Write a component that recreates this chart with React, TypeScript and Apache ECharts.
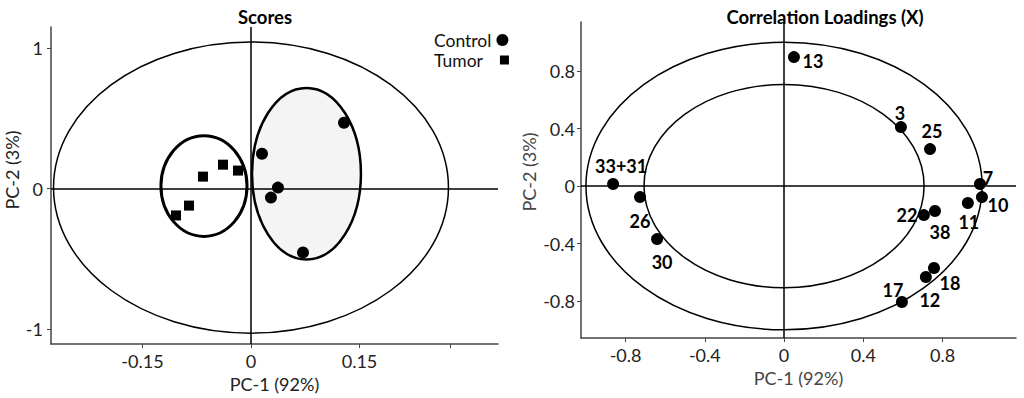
import React, { useEffect, useRef } from 'react';
import * as echarts from 'echarts';

// ---------- Scores panel data ----------
const scoreControl: number[][] = [
  [0.1286, 0.468],
  [0.0152, 0.248],
  [0.0373, 0.007],
  [0.0276, -0.064],
  [0.0719, -0.454],
];
const scoreTumor: number[][] = [
  [-0.0387, 0.17],
  [-0.018, 0.128],
  [-0.0664, 0.085],
  [-0.0857, -0.121],
  [-0.1037, -0.191],
];
// ellipses: [centerX, centerY, radiusX, radiusY]
const scoreEllipseHotelling = [0, 0.007, 0.273, 1.035];
const scoreEllipseControl = [0.0767, 0.106, 0.0753, 0.61];
const scoreEllipseTumor = [-0.065, 0.018, 0.0595, 0.358];
const scoreXTicks = [-0.15, 0, 0.15, 0.275];
const scoreXLabels = [-0.15, 0, 0.15];
const scoreYTicks = [-1, 0, 1];

// ---------- Correlation loadings panel data ----------
const loadingNames = ['13', '3', '25', '7', '10', '11', '22', '38', '33+31', '26', '30', '18', '12', '17'];
const loadingX = [0.05, 0.59, 0.737, 0.989, 0.999, 0.928, 0.706, 0.762, -0.863, -0.727, -0.641, 0.757, 0.716, 0.595];
const loadingY = [0.897, 0.41, 0.257, 0.014, -0.077, -0.118, -0.202, -0.174, 0.014, -0.077, -0.369, -0.57, -0.633, -0.807];
const loadingCircleRadii = [1.0, 0.707];
const loadingTicks = [-0.8, -0.4, 0, 0.4, 0.8];

// label placement (pixel offsets of label centre from point centre)
const labelOffsets: Record<string, number[]> = {
  '13': [19, 4], '3': [-1, -14], '25': [2, -18], '7': [8, -6], '10': [16, 8],
  '11': [1, 19], '22': [-17, 0], '38': [5, 21], '33+31': [8, -18], '26': [0, 24],
  '30': [5, 23], '18': [16, 15], '12': [4, 23], '17': [-9, -12],
};

const FONT = 'Lato, "Open Sans", sans-serif';

function ellipseSeries(axis: number, ell: number[], lineWidth: number, fill: string) {
  return {
    type: 'custom',
    xAxisIndex: axis,
    yAxisIndex: axis,
    z: 1,
    silent: true,
    clip: false,
    data: [ell],
    encode: { x: 0, y: 1 },
    renderItem: (_p: any, api: any) => {
      const c = api.coord([api.value(0), api.value(1)]);
      const s = api.size([api.value(2), api.value(3)]);
      return {
        type: 'ellipse',
        shape: { cx: c[0], cy: c[1], rx: s[0], ry: s[1] },
        style: { fill, stroke: '#000', lineWidth },
      };
    },
  };
}

const zeroLines = {
  silent: true,
  symbol: 'none',
  label: { show: false },
  lineStyle: { color: '#000', width: 1.5, type: 'solid' },
  data: [{ xAxis: 0 }, { yAxis: 0 }],
};

export default function App() {
  const ref = useRef<HTMLDivElement>(null);
  useEffect(() => {
    document.body.style.margin = '0';
    const chart = echarts.init(ref.current!, null, { renderer: 'svg' });
    const axisCommon = {
      type: 'value',
      splitLine: { show: false },
      axisLine: { show: true, onZero: false, lineStyle: { color: '#444', width: 1.5 } },
      axisTick: { show: true, length: 4, lineStyle: { color: '#444' } },
      axisLabel: { color: '#222', fontSize: 18, fontFamily: FONT, margin: 8, formatter: (v: number) => String(v) },
    };
    const legendCommon = {
      orient: 'vertical',
      left: 434,
      align: 'right',
      padding: 0,
      itemGap: 0,
    };
    const option: any = {
      animation: false,
      textStyle: { fontFamily: FONT },
      title: [
        { text: 'Scores', left: 260, top: 2, textAlign: 'center', textStyle: { fontSize: 18.5, fontWeight: 'bold', color: '#000', fontFamily: FONT } },
        { text: 'Correlation Loadings (X)', left: 820, top: 2, textAlign: 'center', textStyle: { fontSize: 18.5, fontWeight: 'bold', color: '#000', fontFamily: FONT } },
      ],
      legend: [
        {
          ...legendCommon,
          top: 31,
          itemWidth: 12,
          itemHeight: 12,
          textStyle: { fontSize: 17.5, color: '#111', fontFamily: FONT, lineHeight: 17 },
          data: [{ name: 'Control', icon: 'circle' }],
        },
        {
          ...legendCommon,
          top: 51,
          itemWidth: 9,
          itemHeight: 9,
          textStyle: { fontSize: 17.5, color: '#111', fontFamily: FONT, lineHeight: 17, padding: [0, 12, 0, 0] },
          data: [{ name: 'Tumor', icon: 'rect' }],
        },
      ],
      grid: [
        { left: 51, top: 27, width: 447, height: 318 },
        { left: 581, top: 22, width: 435, height: 316 },
      ],
      xAxis: [
        {
          ...axisCommon,
          gridIndex: 0,
          min: -0.2765,
          max: 0.3415,
          name: 'PC-1 (92%)',
          nameLocation: 'middle',
          nameGap: 27,
          nameTextStyle: { fontSize: 18, color: '#222', fontFamily: FONT },
          axisTick: { ...axisCommon.axisTick, customValues: scoreXTicks },
          axisLabel: { ...axisCommon.axisLabel, customValues: scoreXLabels },
        },
        {
          ...axisCommon,
          gridIndex: 1,
          min: -1.025,
          max: 1.171,
          name: 'PC-1 (92%)',
          nameLocation: 'middle',
          nameGap: 25,
          nameTextStyle: { fontSize: 18, color: '#444', fontFamily: FONT },
          axisTick: { ...axisCommon.axisTick, customValues: loadingTicks },
          axisLabel: { ...axisCommon.axisLabel, customValues: loadingTicks },
        },
      ],
      yAxis: [
        {
          ...axisCommon,
          gridIndex: 0,
          min: -1.106,
          max: 1.149,
          axisTick: { ...axisCommon.axisTick, customValues: scoreYTicks },
          axisLabel: { ...axisCommon.axisLabel, customValues: scoreYTicks },
        },
        {
          ...axisCommon,
          gridIndex: 1,
          min: -1.057,
          max: 1.141,
          axisTick: { ...axisCommon.axisTick, customValues: loadingTicks },
          axisLabel: { ...axisCommon.axisLabel, margin: 6, customValues: loadingTicks },
        },
      ],
      graphic: [
        { type: 'text', x: 12, y: 170, rotation: Math.PI / 2, style: { text: 'PC-2 (3%)', fontSize: 18, fontFamily: FONT, fill: '#222', align: 'center', verticalAlign: 'middle' } },
        { type: 'text', x: 529, y: 172, rotation: Math.PI / 2, style: { text: 'PC-2 (3%)', fontSize: 18, fontFamily: FONT, fill: '#444', align: 'center', verticalAlign: 'middle' } },
      ],
      series: [
        ellipseSeries(0, scoreEllipseControl, 2.5, '#f4f4f4'),
        ellipseSeries(0, scoreEllipseHotelling, 1.5, 'none'),
        ellipseSeries(0, scoreEllipseTumor, 3, 'none'),
        ...loadingCircleRadii.map((r) => ellipseSeries(1, [0, 0, r, r], 1.5, 'none')),
        {
          name: 'Control',
          type: 'scatter',
          xAxisIndex: 0,
          yAxisIndex: 0,
          z: 3,
          symbol: 'circle',
          symbolSize: 12,
          itemStyle: { color: '#000', opacity: 1 },
          data: scoreControl,
          markLine: zeroLines,
        },
        {
          name: 'Tumor',
          type: 'scatter',
          xAxisIndex: 0,
          yAxisIndex: 0,
          z: 3,
          symbol: 'rect',
          symbolSize: 10,
          itemStyle: { color: '#000', opacity: 1 },
          data: scoreTumor,
        },
        {
          name: 'Loadings',
          type: 'scatter',
          xAxisIndex: 1,
          yAxisIndex: 1,
          z: 3,
          symbol: 'circle',
          symbolSize: 12,
          itemStyle: { color: '#000', opacity: 1 },
          markLine: zeroLines,
          data: loadingNames.map((n, i) => ({
            name: n,
            value: [loadingX[i], loadingY[i]],
            label: {
              show: true,
              position: 'inside',
              offset: labelOffsets[n],
              formatter: n,
              fontSize: 18,
              fontWeight: 'bold',
              color: '#000',
              fontFamily: FONT,
            },
          })),
        },
      ],
    };
    chart.setOption(option);
    return () => chart.dispose();
  }, []);
  return <div ref={ref} style={{ width: 1024, height: 398 }} />;
}
